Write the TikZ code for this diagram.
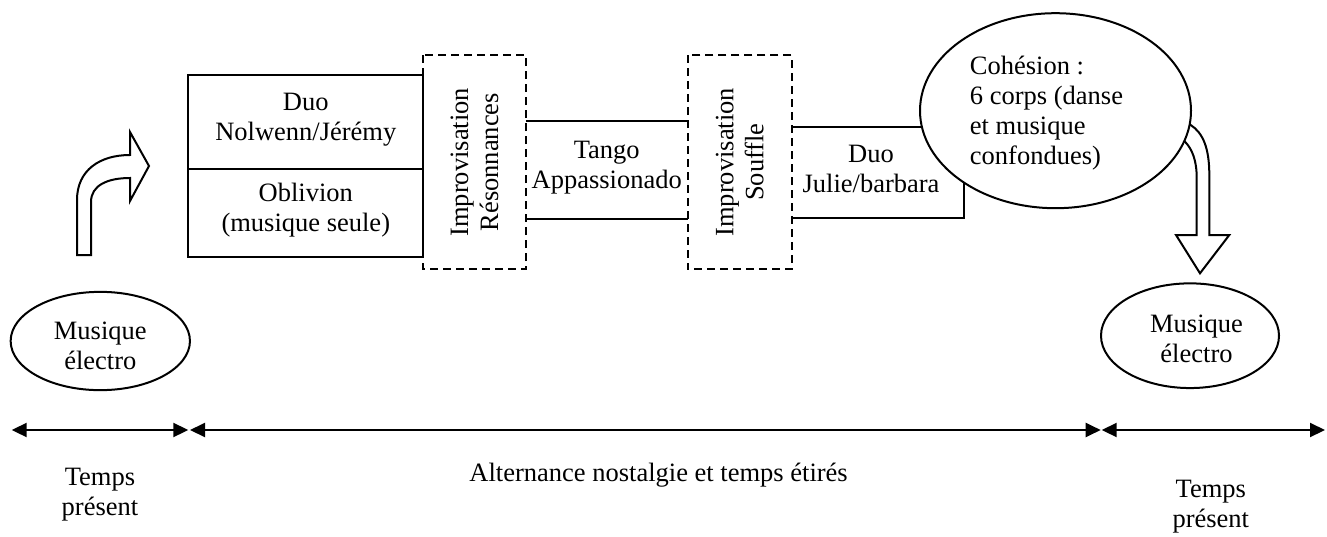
\documentclass[tikz,border=0pt]{standalone}
\usepackage{fontspec}
\setmainfont{Liberation Serif}
\usetikzlibrary{shapes.geometric,arrows.meta}
\tikzset{
  txt/.style={font=\fontsize{26.5pt}{30pt}\selectfont, align=center, inner sep=0pt},
  box/.style={txt, draw, line width=2pt},
  dbox/.style={txt, draw, line width=2pt, dash pattern=on 8pt off 5pt},
  ell/.style={txt, draw, ellipse, line width=2pt, fill=white},
  thk/.style={line width=2pt, line join=miter},
  tl/.style={line width=2pt, {Triangle[length=15pt,width=14pt]}-{Triangle[length=15pt,width=14pt]}}
}
\begin{document}
\begin{tikzpicture}[x=1pt,y=-1pt]
\useasboundingbox (0,0) rectangle (1327,536);

% left bent arrow
\draw[thk] (77,255) -- (77,200) .. controls (77,170) and (100,155) .. (130,155)
  -- (130,132) -- (149,166) -- (130,201) -- (130,178)
  .. controls (108,178) and (91,185) .. (91,202) -- (91,255) -- cycle;

% boxes
\node[box, minimum width=235pt, minimum height=94.3pt] (duo1) at (305.8,122.2)
  {Duo\\Nolwenn/Jérémy\rule[-10.5pt]{0pt}{0pt}};
\node[box, minimum width=235pt, minimum height=88pt] (obl) at (305.8,213.3)
  {Oblivion\\(musique seule)\rule[-11.3pt]{0pt}{0pt}};
\node[dbox, rotate=90, minimum width=214.3pt, minimum height=102.4pt] (impr) at (474.5,162.2)
  {Improvisation\\Résonnances};
\node[txt, minimum width=162pt, minimum height=97.3pt] (tango) at (606.7,169.65)
  {Tango\\Appassionado\rule[-10.1pt]{0pt}{0pt}};
\draw[thk] (tango.north west) -- (tango.north east)
           (tango.south west) -- (tango.south east);
\node[dbox, rotate=90, minimum width=214.3pt, minimum height=104pt] (imps) at (739.7,162.2)
  {Improvisation\\Souffle};
\node[txt, minimum width=171.6pt, minimum height=90.4pt] (julie) at (877.5,172.5)
  {Duo\hspace*{13pt}\\Julie/barbara\hspace*{13pt}\rule[-7.5pt]{0pt}{0pt}};
\draw[thk] (julie.north west) -- (julie.north east) -- (julie.south east) -- (julie.south west);

% curved down arrow
\draw[thk] (1183,120) -- (1190.7,125) .. controls (1203,133) and (1209.3,148) .. (1209.3,175)
  -- (1209.3,235) -- (1229.3,235) -- (1200,273.3) -- (1176,235) -- (1196.7,235)
  -- (1196.7,178) .. controls (1196.7,160) and (1192,149) .. (1185,141.7) -- (1178,136);

% big ellipse
\node[ell, align=left, minimum width=271pt, minimum height=195pt] (coh) at (1055.5,110.7)
  {\rule{0pt}{23.3pt}Cohésion :\\6 corps (danse\rule{18pt}{0pt}\\et musique\\confondues)};

% small ellipses
\node[ell, minimum width=179.3pt, minimum height=98.3pt] (me1) at (100.3,341)
  {\rule{0pt}{28pt}Musique\\électro};
\node[ell, minimum width=178pt, minimum height=104.7pt] (me2) at (1190,335.7)
  {\rule{0pt}{24.6pt}\hspace*{13pt}Musique\\\hspace*{13pt}électro};

% timeline
\coordinate (t0) at (11.7,430);
\coordinate (t1a) at (188.3,430);
\coordinate (t1b) at (190,430);
\coordinate (t2a) at (1100.7,430);
\coordinate (t2b) at (1101.7,430);
\coordinate (t3) at (1325,430);
\draw[tl] (t0) -- (t1a);
\draw[tl] (t1b) -- (t2a);
\draw[tl] (t2b) -- (t3);

\node[txt] (tp1) at (100,494.6) {Temps\\présent};
\node[txt, anchor=base] (alt) at (658.6,481.7) {Alternance nostalgie et temps étirés};
\node[txt] (tp2) at (1210.8,507) {Temps\\présent};
\end{tikzpicture}
\end{document}
